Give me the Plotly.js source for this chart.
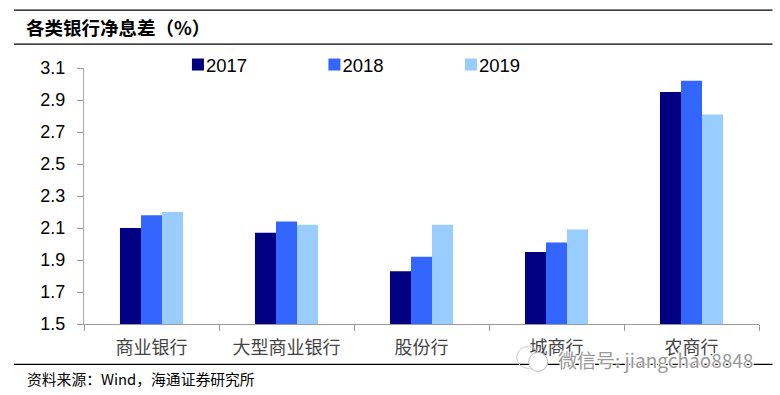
<!DOCTYPE html>
<html>
<head>
<meta charset="utf-8">
<script src="https://cdn.plot.ly/plotly-3.0.1.min.js"></script>
<style>html,body{margin:0;padding:0;background:#fff}#c{width:780px;height:395px}</style>
</head>
<body>
<div id="c"></div>
<script>
var categories = ['商业银行', '大型商业银行', '股份行', '城商行', '农商行'];
var v2017 = [2.10, 2.07, 1.83, 1.95, 2.95];
var v2018 = [2.18, 2.14, 1.92, 2.01, 3.02];
var v2019 = [2.20, 2.12, 2.12, 2.09, 2.81];
var yTicks = [1.5, 1.7, 1.9, 2.1, 2.3, 2.5, 2.7, 2.9, 3.1];
var titleText = '各类银行净息差（%）';
var sourceText = '资料来源：Wind，海通证券研究所';
var watermarkText = '微信号: jiangchao8848';

var cjk = '"Noto Sans CJK SC", sans-serif';
var latin = '"Liberation Sans", Arial, sans-serif';
var W = 675.5, H = 256.5, B = 324.5;
function px(x) { return (x - 84) / W; }
function py(y) { return (B - y) / H; }
function s(name, y, color) {
  return {type: 'bar', name: name, x: categories, y: y, marker: {color: color, line: {width: 0}}};
}
var data = [s('2017', v2017, '#000080'), s('2018', v2018, '#3366FF'), s('2019', v2019, '#99CCFF')];
function rule(y) {
  return {type: 'line', xref: 'paper', yref: 'paper', x0: px(14), x1: px(773),
    y0: py(y), y1: py(y), line: {color: '#000', width: 1.2}};
}
var layout = {
  width: 780, height: 395,
  margin: {l: 84, r: 20.5, t: 68, b: 70.5, pad: 0},
  paper_bgcolor: '#fff', plot_bgcolor: '#fff',
  showlegend: true,
  legend: {orientation: 'h', x: px(178), y: py(65), xanchor: 'left', yanchor: 'middle',
    entrywidth: 91.5, entrywidthmode: 'pixels', font: {family: latin, size: 18.5, color: '#000'},
    bgcolor: 'rgba(0,0,0,0)'},
  barmode: 'group', bargap: 0.533, bargroupgap: 0,
  xaxis: {type: 'category', tickson: 'boundaries', ticks: 'outside', ticklen: 6, tickcolor: '#999',
    tickwidth: 1, showline: true, linecolor: '#999', linewidth: 1, showgrid: false,
    ticklabelstandoff: 7,
    tickfont: {family: cjk, size: 18, color: '#444'}},
  yaxis: {range: [1.5, 3.1], tickvals: yTicks, tickformat: '.1f', ticks: 'outside', ticklen: 6,
    tickcolor: '#999', tickwidth: 1, showline: true, linecolor: '#aaa', linewidth: 1.3, showgrid: false,
    zeroline: false, ticklabelstandoff: 8, tickfont: {family: latin, size: 18, color: '#000'}},
  shapes: [rule(10), rule(44), rule(365),
    {type: 'circle', xref: 'paper', yref: 'paper', x0: px(517), x1: px(540),
     y0: py(369), y1: py(347), line: {color: '#ccc', width: 1}},
    {type: 'circle', xref: 'paper', yref: 'paper', x0: px(529), x1: px(548),
     y0: py(372), y1: py(353), fillcolor: '#fff', line: {color: '#bbb', width: 1}}],
  annotations: [
    {xref: 'paper', yref: 'paper', x: px(24), y: py(27), xanchor: 'left', yanchor: 'middle',
     text: titleText, showarrow: false, font: {family: cjk, size: 18.5, color: '#000', weight: 700}},
    {xref: 'paper', yref: 'paper', x: px(25), y: py(379), xanchor: 'left', yanchor: 'middle',
     text: sourceText, showarrow: false, font: {family: cjk, size: 14.8, color: '#000'}},
    {xref: 'paper', yref: 'paper', x: px(556), y: py(360), xanchor: 'left', yanchor: 'middle',
     text: watermarkText, showarrow: false, font: {family: cjk, size: 19, color: '#999',
     shadow: '1px 1px 0 #fff, -1px -1px 0 #fff, 1px -1px 0 #fff, -1px 1px 0 #fff'}}
  ]
};
Plotly.newPlot('c', data, layout, {displayModeBar: false, responsive: false}).then(function () {
  document.querySelectorAll('#c .legendtext').forEach(function (t) { t.setAttribute('x', 28); });
});
</script>
</body>
</html>
